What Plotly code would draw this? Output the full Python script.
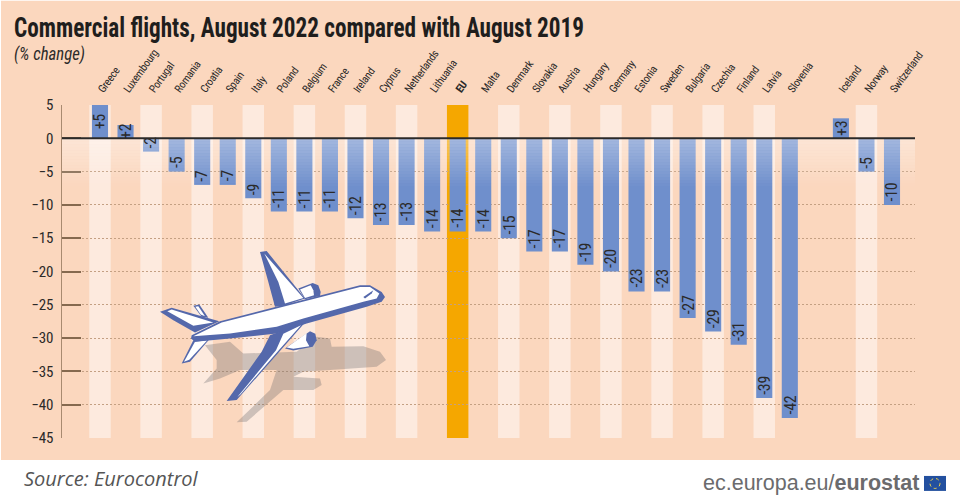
import plotly.graph_objects as go

countries = ["Greece", "Luxembourg", "Portugal", "Romania", "Croatia", "Spain", "Italy", "Poland",
             "Belgium", "France", "Ireland", "Cyprus", "Netherlands", "Lithuania", "<b>EU</b>", "Malta",
             "Denmark", "Slovakia", "Austria", "Hungary", "Germany", "Estonia", "Sweden", "Bulgaria",
             "Czechia", "Finland", "Latvia", "Slovenia", " ", "Iceland", "Norway", "Switzerland"]
changes = [5, 2, -2, -5, -7, -7, -9, -11, -11, -11, -12, -13, -13, -14, -14, -14,
           -15, -17, -17, -19, -20, -23, -23, -27, -29, -31, -39, -42, None, 3, -5, -10]
y_ticks = [5, 0, -5, -10, -15, -20, -25, -30, -35, -40, -45]

W, H = 960, 504
LEFT, RIGHT, TOP, BOTTOM = 62, 915, 104.5, 438
PEACH = "#fbd7be"
STRIPE = "#fdeade"
BLUE = "#6f8fcc"
ORANGE = "#f5a700"
PLANE = "#5468ab"
DARK = "#2b2a29"
NARROW = "Roboto Condensed, Open Sans Condensed, DejaVu Sans Condensed, Open Sans, sans-serif"


def px(x, y):
    return (x - LEFT) / (RIGHT - LEFT), (BOTTOM - y) / (BOTTOM - TOP)


def plane_path(points):
    # points were traced on a 3x crop starting at (130, 235)
    coords = [px(130 + a / 3, 235 + b / 3) for a, b in points]
    return "M " + " L ".join(f"{a:.5f},{b:.5f}" for a, b in coords) + " Z"


def plane_part(points, color):
    return dict(type="path", xref="paper", yref="paper", path=plane_path(points),
                fillcolor=color, line=dict(width=0), layer="above")


shapes = []
# peach page behind the chart
x0, y1 = px(1, 0)
x1, y0 = px(W, 460)
shapes.append(dict(type="rect", xref="paper", yref="paper", x0=x0, x1=x1, y0=y0, y1=y1,
                   fillcolor=PEACH, line=dict(width=0), layer="below"))

# alternating stripes, EU in orange
for i, v in enumerate(changes):
    if i % 2 == 0 and v is not None:
        shapes.append(dict(type="rect", xref="x", yref="y", x0=i - 0.42, x1=i + 0.42, y0=-45, y1=5,
                           fillcolor=ORANGE if i == 14 else STRIPE, line=dict(width=0), layer="below"))

# white fade just under the zero line
n_fade = 16
for k in range(n_fade):
    shapes.append(dict(type="rect", xref="paper", yref="y", x0=0, x1=1,
                       y0=-(k + 1) * 0.45, y1=-k * 0.45,
                       fillcolor=f"rgba(255,255,255,{0.36 * (1 - k / n_fade):.3f})",
                       line=dict(width=0), layer="above"))

shapes.append(dict(type="line", xref="paper", yref="y", x0=0, x1=1, y0=0, y1=0,
                   line=dict(color=DARK, width=2), layer="above"))

# aeroplane
shadow = [(225, 330), (300, 320), (340, 355), (500, 350), (560, 305), (600, 310), (605, 335), (700, 333),
          (750, 350), (768, 375), (740, 395), (600, 405), (520, 410), (490, 425), (570, 430), (575, 450),
          (550, 465), (460, 465), (350, 560), (320, 562), (420, 465), (440, 405), (330, 405), (270, 430),
          (220, 445), (260, 400), (260, 375)]
shapes.append(plane_part(shadow, "rgba(110,105,110,0.33)"))
parts = [
    ([(505, 160), (548, 143), (565, 150), (572, 170), (570, 182), (525, 192)], PLANE),
    ([(510, 163), (542, 150), (550, 165), (552, 180), (525, 188)], "#ffffff"),
    ([(465, 340), (540, 288), (556, 296), (560, 315), (548, 335), (490, 346)], PLANE),
    ([(470, 337), (530, 294), (528, 315), (538, 333), (490, 341)], "#ffffff"),
    ([(190, 212), (208, 208), (235, 248), (215, 245)], PLANE),
    ([(196, 215), (205, 213), (225, 243), (212, 238)], "#ffffff"),
    ([(155, 385), (190, 315), (240, 310), (180, 380)], PLANE),
    ([(162, 380), (195, 320), (232, 315), (178, 374)], "#ffffff"),
    ([(90, 230), (125, 218), (268, 258), (195, 292), (130, 255)], PLANE),
    ([(112, 228), (125, 223), (250, 262), (190, 272)], "#ffffff"),
    ([(390, 50), (410, 47), (525, 190), (460, 212), (435, 215), (415, 140)], PLANE),
    ([(403, 55), (520, 188), (465, 205), (445, 140)], "#ffffff"),
    ([(185, 300), (270, 258), (690, 150), (720, 150), (755, 170), (765, 185), (755, 200), (710, 215),
      (530, 265), (440, 295), (300, 310), (195, 320), (183, 310)], PLANE),
    ([(190, 303), (275, 262), (690, 155), (720, 155), (748, 175), (740, 190), (700, 200), (520, 250),
      (440, 275), (300, 295)], "#ffffff"),
    ([(700, 185), (730, 165), (725, 175), (705, 190)], PLANE),
    ([(525, 262), (320, 495), (290, 498), (395, 350), (420, 300)], PLANE),
    ([(513, 270), (460, 296), (438, 345), (322, 486), (331, 478), (449, 342)], "#ffffff"),
]
for pts, col in parts:
    shapes.append(plane_part(pts, col))

# EU flag next to the logo text
fx0, fy1 = px(924, 476)
fx1, fy0 = px(946, 491)
shapes.append(dict(type="rect", xref="paper", yref="paper", x0=fx0, x1=fx1, y0=fy0, y1=fy1,
                   fillcolor="#23509f", line=dict(width=0), layer="above"))
cx0, cy1 = px(930, 478.5)
cx1, cy0 = px(940, 488.5)
shapes.append(dict(type="circle", xref="paper", yref="paper", x0=cx0, x1=cx1, y0=cy0, y1=cy1,
                   line=dict(color="#f3d34a", width=1, dash="dot"), layer="above"))

annotations = []
# value labels sit above the fade so they stay crisp
for c, v in zip(countries, changes):
    if v is None:
        continue
    annotations.append(dict(x=c, y=v / 2 if v > 0 else v, xref="x", yref="y", text=f"{v:+d}",
                            textangle=-90, showarrow=False, yanchor="middle" if v > 0 else "bottom",
                            yshift=0 if v > 0 else 1,
                            font=dict(family=NARROW, size=16, color=DARK)))


def page_text(x, y, text, size, color, family, anchor="left"):
    xp, yp = px(x, y)
    annotations.append(dict(x=xp, y=yp, xref="paper", yref="paper", text=text, showarrow=False,
                            xanchor=anchor, yanchor="middle", align=anchor,
                            font=dict(family=family, size=size, color=color)))


page_text(12, 27, "<b>Commercial flights, August 2022 compared with August 2019</b>", 27, "#1f1e1d", NARROW)
page_text(12, 53, "<i>(% change)</i>", 19, "#2b2a29", NARROW)
page_text(22, 479, "<i>Source: Eurocontrol</i>", 20, "#555555", "Open Sans, sans-serif")
page_text(921, 483, "ec.europa.eu/<b>eurostat</b>", 21.5, "#6b6b6d", "Liberation Sans, sans-serif", anchor="right")

fig = go.Figure(go.Bar(x=countries, y=changes, width=0.63, marker=dict(color=BLUE, line=dict(width=0)),
                       hoverinfo="x+y"))

fig.update_layout(
    width=W, height=H, margin=dict(l=LEFT, r=W - RIGHT, t=TOP, b=H - BOTTOM, autoexpand=False),
    paper_bgcolor="#ffffff", plot_bgcolor="rgba(0,0,0,0)", showlegend=False,
    shapes=shapes, annotations=annotations,
    xaxis=dict(side="top", type="category", categoryorder="array", categoryarray=countries,
               range=[-1.487, 31.9], tickangle=-54, showgrid=False, ticks="", showline=False,
               ticklabelstandoff=6, ticklabelshift=-1,
               tickfont=dict(family=NARROW, size=11, color=DARK)),
    yaxis=dict(range=[-45, 5], tickvals=y_ticks, ticks="inside", ticklen=19, tickwidth=1.5, tickcolor="#85694f",
               showline=True, linecolor="#a88a70", linewidth=1, zeroline=False,
               gridcolor="#c4a083", griddash="2px,2px", gridwidth=1, ticklabelstandoff=5,
               tickfont=dict(family=NARROW, size=15, color=DARK)),
)

# the original typeface is narrower than anything installed, so squeeze the text
condense = """
document.body.style.margin = '0';
var st = document.createElement('style');
st.textContent = 'svg text {font-stretch: 75%; letter-spacing: -0.3px;}';
document.head.appendChild(st);
document.querySelectorAll('svg text').forEach(function (t) {
    var s = t.textContent;
    if (s.indexOf('Commercial') === 0) { t.style.letterSpacing = '0'; t.setAttribute('textLength', 570); t.setAttribute('lengthAdjust', 'spacingAndGlyphs'); }
    if (s.indexOf('(% change') === 0) { t.style.letterSpacing = '0'; t.setAttribute('textLength', 71); t.setAttribute('lengthAdjust', 'spacingAndGlyphs'); }
    if (s.indexOf('Source') === 0 || s.indexOf('ec.europa') === 0) { t.style.letterSpacing = '0'; t.style.fontStretch = '100%'; }
});
"""
fig.write_html("out.html", config={"displayModeBar": False}, post_script=condense)
